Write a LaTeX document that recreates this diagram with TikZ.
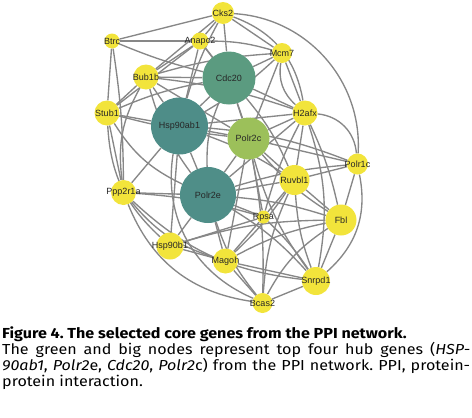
\documentclass[tikz,border=0pt]{standalone}
\usepackage{fontspec}
\setmainfont[FakeStretch=1.11]{Fira Sans}
\newfontfamily\lblfont{Liberation Sans}
\pgfdeclarelayer{edgelayer}
\pgfsetlayers{edgelayer,main}
\definecolor{yel}{HTML}{F2E43B}
\definecolor{cdcc}{HTML}{5B9B80}
\definecolor{hspc}{HTML}{4E8D88}
\definecolor{polec}{HTML}{4F8E88}
\definecolor{polcc}{HTML}{9CC05A}
\definecolor{edgec}{HTML}{878787}
\definecolor{lblc}{HTML}{262626}
\tikzset{
  gene/.style={circle, draw=none, inner sep=0pt},
  ynode/.style={gene, fill=yel},
  lbl/.style={font=\lblfont\fontsize{9}{10}\selectfont, text=lblc, inner sep=0pt},
  ed/.style={draw=edgec, line width=1.35pt},
  captxt/.style={anchor=base west, inner sep=0pt, font=\fontsize{14.5}{16}\selectfont}
}
\begin{document}
\frenchspacing
\begin{tikzpicture}[x=1pt,y=-1pt]
\useasboundingbox (0,0) rectangle (472,418);
% nodes
\node[ynode, minimum size=22, label={[lbl]center:Cks2}] (cks2) at (223,13) {};
\node[ynode, minimum size=15, label={[lbl]center:Btrc}] (btrc) at (112,41) {};
\node[ynode, minimum size=17, label={[lbl]center:Anapc2}] (anapc2) at (200,41) {};
\node[ynode, minimum size=20, label={[lbl]center:Mcm7}] (mcm7) at (282,53) {};
\node[gene, fill=cdcc, minimum size=53, label={[lbl]center:Cdc20}] (cdc20) at (229,78) {};
\node[ynode, minimum size=25, label={[lbl]center:Bub1b}] (bub1b) at (146,77) {};
\node[ynode, minimum size=25, label={[lbl]center:Stub1}] (stub1) at (107,113) {};
\node[ynode, minimum size=25, label={[lbl]center:H2afx}] (h2afx) at (305,113) {};
\node[gene, fill=hspc, minimum size=57, label={[lbl]center:Hsp90ab1}] (hsp90ab1) at (179.5,126) {};
\node[gene, fill=polcc, minimum size=42, label={[lbl]center:Polr2c}] (polr2c) at (248.5,138.5) {};
\node[ynode, minimum size=21, label={[lbl]center:Polr1c}] (polr1c) at (357.5,164) {};
\node[ynode, minimum size=30, label={[lbl]center:Ruvbl1}] (ruvbl1) at (294.5,180) {};
\node[ynode, minimum size=25, label={[lbl]center:Ppp2r1a}] (ppp2r1a) at (123.5,192.5) {};
\node[gene, fill=polec, minimum size=56, label={[lbl]center:Polr2e}] (polr2e) at (208,195) {};
\node[ynode, minimum size=13, label={[lbl]center:Rpsa}] (rpsa) at (263.5,217) {};
\node[ynode, minimum size=31, label={[lbl]center:Fbl}] (fbl) at (341,220) {};
\node[ynode, minimum size=27, label={[lbl]center:Hsp90b1}] (hsp90b1) at (170,246) {};
\node[ynode, minimum size=25, label={[lbl]center:Magoh}] (magoh) at (225.5,261) {};
\node[ynode, minimum size=28, label={[lbl]center:Snrpd1}] (snrpd1) at (316,281) {};
\node[ynode, minimum size=20, label={[lbl]center:Bcas2}] (bcas2) at (262.5,303) {};
% edges
\begin{pgfonlayer}{edgelayer}
\foreach \a/\b/\bd in {
  btrc/cks2/0, btrc/anapc2/0, btrc/cdc20/4, btrc/stub1/0, btrc/ppp2r1a/-4,
  cks2/anapc2/0, cks2/bub1b/0, cks2/cdc20/0, cks2/mcm7/0, cks2/h2afx/-30, cks2/polr1c/-45, cks2/hsp90ab1/6,
  anapc2/bub1b/0, anapc2/cdc20/0, anapc2/mcm7/-8, anapc2/stub1/0, anapc2/hsp90ab1/0, anapc2/polr2c/-10,
  cdc20/mcm7/0, cdc20/bub1b/0, cdc20/h2afx/0, cdc20/hsp90ab1/0, cdc20/polr2c/0, cdc20/stub1/6, cdc20/polr2e/12, cdc20/ruvbl1/-8,
  bub1b/stub1/0, bub1b/hsp90ab1/0, bub1b/h2afx/-6, bub1b/polr2c/0, bub1b/ppp2r1a/18, bub1b/polr2e/10, bub1b/mcm7/-6,
  stub1/hsp90ab1/0, stub1/ppp2r1a/0, stub1/polr2c/4, stub1/hsp90b1/22, stub1/polr2e/16,
  mcm7/h2afx/0, mcm7/h2afx/28, mcm7/polr2c/0, mcm7/hsp90ab1/-6,
  h2afx/polr2c/0, h2afx/ruvbl1/0, h2afx/polr1c/-40, h2afx/fbl/-6, h2afx/polr2e/0, h2afx/snrpd1/-14, h2afx/hsp90ab1/0, h2afx/rpsa/6,
  hsp90ab1/polr2c/0, hsp90ab1/polr2e/0, hsp90ab1/hsp90b1/0, hsp90ab1/ppp2r1a/0, hsp90ab1/bcas2/38, hsp90ab1/ruvbl1/-6, hsp90ab1/polr1c/-8,
  polr2c/polr2e/0, polr2c/ruvbl1/0, polr2c/polr1c/0, polr2c/rpsa/0, polr2c/fbl/8, polr2c/magoh/0, polr2c/snrpd1/10, polr2c/bcas2/-6,
  polr1c/ruvbl1/0, polr1c/fbl/0, polr1c/polr2e/6, polr1c/snrpd1/-30,
  ruvbl1/fbl/0, ruvbl1/polr2e/0, ruvbl1/rpsa/0, ruvbl1/snrpd1/8, ruvbl1/magoh/-6,
  polr2e/rpsa/0, polr2e/magoh/0, polr2e/snrpd1/-8, polr2e/bcas2/10, polr2e/fbl/-6, polr2e/hsp90b1/0, polr2e/ppp2r1a/0,
  ppp2r1a/magoh/16, ppp2r1a/snrpd1/18, ppp2r1a/rpsa/-6, ppp2r1a/bcas2/30,
  hsp90b1/rpsa/0, hsp90b1/magoh/0, hsp90b1/fbl/-8,
  magoh/snrpd1/0, magoh/bcas2/0, magoh/fbl/-8, magoh/rpsa/0,
  snrpd1/bcas2/0, snrpd1/fbl/0, snrpd1/rpsa/6, bcas2/fbl/-14, bcas2/ruvbl1/-10}
  \draw[ed] (\a) to[bend right=\bd] (\b);
\end{pgfonlayer}
% caption
\node[captxt, font=\fontsize{14.5}{16}\selectfont\bfseries] (title) at (2,338.3) {Figure 4. The selected core genes from the PPI network.};
\node[captxt] (line1) at (2,354.3) {\makebox[468pt][s]{The green and big nodes represent top four hub genes (\textit{HSP-}}};
\node[captxt] (line2) at (2,370.3) {\makebox[468pt][s]{\textit{90ab1}, \textit{Polr2}e, \textit{Cdc20}, \textit{Polr2}c) from the PPI network. PPI, protein-}};
\node[captxt] (line3) at (2,386) {protein interaction.};
\end{tikzpicture}
\end{document}
